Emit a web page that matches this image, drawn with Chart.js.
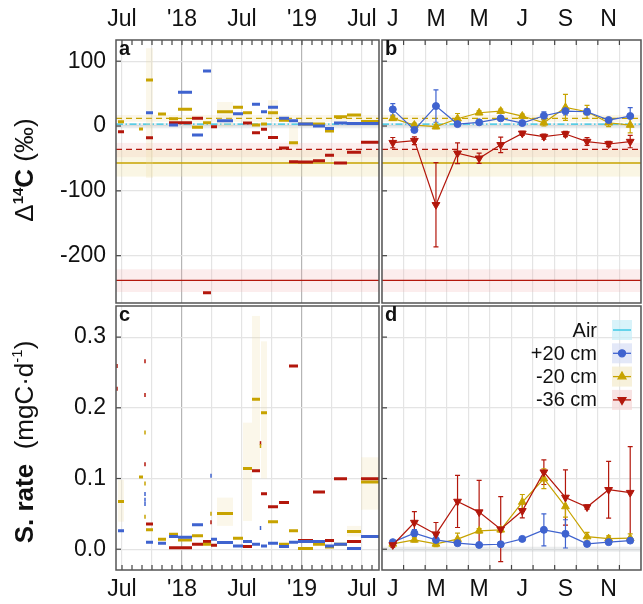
<!DOCTYPE html>
<html><head><meta charset="utf-8">
<script src="https://cdn.jsdelivr.net/npm/chart.js@4"></script>
<style>
html,body{margin:0;padding:0;background:#fff;}
#wrap{position:relative;width:643px;height:604px;overflow:hidden;background:#fff;}
canvas{position:absolute;}
</style></head><body>
<div id="wrap">
<canvas id="ca" width="380" height="304" style="left:0px;top:0px"></canvas>
<canvas id="cb" width="263" height="304" style="left:380px;top:0px"></canvas>
<canvas id="cc" width="380" height="300" style="left:0px;top:304px"></canvas>
<canvas id="cd" width="263" height="300" style="left:380px;top:304px"></canvas>
</div>
<script>
// ---------- DATA ----------
const monthLabels = ['J','F','M','A','M','J','J','A','S','O','N','D'];
// time axis in decimal months since Jan 2017
const timeTickLabels = {6:'Jul',12:"'18",18:'Jul',24:"'19",30:'Jul'};
const d14cTicks = [-200,-100,0,100];
const rateTicks = [0,0.1,0.2,0.3];
const intervalStart = [5.6,7.7,8.4,9.6,10.7,11.6,13.0,14.1,14.9,15.5,17.1,18.1,19.0,19.9,20.6,21.7,22.7,23.6,25.1,26.3,27.2,28.5,29.9];
const intervalEnd   = [6.2,8.1,9.1,10.4,11.6,13.0,14.1,14.9,15.5,17.1,18.1,19.0,19.8,20.5,21.6,22.7,23.6,25.1,26.3,27.2,28.5,29.9,31.7];

const d14cP20 = [null,null,20.5,null,1.5,52,-14,85,null,8,19,null,33.5,22,29,11.8,8,3,0,-4,4.5,4,4];
const d14cM20 = [6.6,-4.6,71,18.5,11.3,25.8,-2,5,null,22,29,20.5,1.5,3,20.5,9,-25.7,3,3,-7.5,14.4,17,7];
const d14cM36 = [-8.8,null,-18,null,5,5,11.8,-257,-1,null,null,4.5,-10.5,-5,-17.7,-34,-55,-55.5,-53.5,-45,-57,-40.5,-25];

const rateP20 = [0.026,null,0.010,0.0085,0.018,0.017,0.0345,null,0.014,0.0094,0.0047,0.0108,0.007,0.0047,0.0085,0.004,0.010,0.011,0.0108,0.0047,0.007,0.001,0.018];
const rateM20 = [0.0675,0.102,0.0274,0.014,0.021,0.013,0.019,0.007,null,0.0505,0.0156,0.114,0.212,0.193,0.039,0.007,0.026,0.001,0.007,0.003,0.007,0.025,0.095];
const rateM36 = [null,null,0.0355,null,0.002,0.002,0.007,0.0108,0.0057,null,null,0.004,0.111,0.0785,0.060,0.066,0.259,0.0122,0.081,0.0122,0.0997,0.0108,0.0997];

// short single-sample marks in panel c
const spotMonthP20 = [8.3,8.3,8.3,14.9,19.85];
const spotRateP20  = [0.078,0.070,0.064,0.104,0.030];
const spotMonthM20 = [8.3,8.3,8.3,14.9,19.85];
const spotRateM20  = [0.165,0.093,0.046,0.050,0.146];
const spotMonthM36 = [5.5,5.5,8.3,8.3,8.3,14.9,19.85];
const spotRateM36  = [0.259,0.227,0.266,0.218,0.120,0.038,0.150];

// uncertainty boxes (panel a / c)
const unc14cStart = [8.4,15.5,20.6,22.7];
const unc14cEnd   = [9.1,17.1,21.6,23.6];
const unc14cLo    = [-80,-1,14,-32];
const unc14cHi    = [120,37,40,-1];
const uncRateStart = [5.6,15.5,18.1,19.0,19.9,28.5,29.9];
const uncRateEnd   = [6.2,17.1,19.0,19.8,20.5,29.9,31.7];
const uncRateLo    = [0.039,0.033,0.040,0.110,0.100,0.018,0.056];
const uncRateHi    = [0.098,0.073,0.179,0.330,0.294,0.033,0.130];

// monthly means (panel b, d)
const monthD14cP20 = [25.7,-6,30.8,3,5.7,11.8,4.6,15.9,23,22,9.2,15.4];
const monthD14cP20Err = [9,3,25,2,2,2,2,6,6,5,3,13];
const monthD14cM20 = [11.8,1.5,-1,11.3,20.5,23,15.4,5,28.7,22,5,1.5];
const monthD14cM20Err = [3,3,3,8,3,3,3,5,20,10,6,12];
const monthD14cM36 = [-25.7,-22.6,-121.5,-42,-49.7,-29,-11.3,-16.4,-12.3,-24,-27.7,-24];
const monthD14cM36Err = [8,6,65,16,8,12,3,4,4,6,4,9.5];

const monthRateP20 = [0.010,0.0227,0.0132,0.0085,0.006,0.007,0.0146,0.0274,0.0217,0.0075,0.010,0.0122];
const monthRateP20Err = [0.002,0.005,0.006,0.002,0.002,0.002,0.002,0.0227,0.020,0.002,0.002,0.002];
const monthRateM20 = [0.0075,0.0132,0.0075,0.0142,0.026,0.0274,0.0667,0.0997,0.0604,0.0179,0.015,0.0156];
const monthRateM20Err = [0.002,0.003,0.004,0.0085,0.003,0.003,0.0107,0.014,0.015,0.006,0.004,0.006];
const monthRateM36 = [0.006,0.0377,0.0213,0.0675,0.0525,0.0284,0.0543,0.109,0.0732,0.0596,0.0841,0.080];
const monthRateM36Err = [0.003,0.0156,0.0165,0.0368,0.045,0.046,0.01,0.0175,0.039,0.003,0.040,0.065];

// long-term reference values (Δ14C, ‰)
const refValue  = [3, 11.8, -36, -57, -238];
const refBandLo = [-3.5, 6.6, -48, -78, -256];
const refBandHi = [4.5, 17, -26, -37, -221];
const rateAirBandLo = [-0.0035];
const rateAirBandHi = [0.0035];

const legendLabels = ['Air','+20 cm','-20 cm','-36 cm'];

// ---------- STYLE ----------
const FONT = "'Liberation Sans', Arial, Helvetica, sans-serif";
const CYAN='#27c3e3', BLUE='#3f63cf', OLIVE='#c7a300', RED='#b3170c';
const refColor = [CYAN, OLIVE, RED, OLIVE, RED];
const refDash = [[7,2.5,1.5,2.5],[6,4],[6,4],[],[]];
const refBandColor = ['rgba(190,195,200,0.30)','rgba(235,215,150,0.22)','rgba(240,170,170,0.20)','rgba(240,225,165,0.30)','rgba(240,175,175,0.22)'];
const uncColor = 'rgba(235,220,160,0.22)';
const legendColor = [CYAN, BLUE, OLIVE, RED];
const legendBox = ['rgba(200,238,248,0.7)','rgba(215,222,245,0.7)','rgba(245,238,210,0.8)','rgba(245,215,215,0.7)'];
const legendMarker = [null,'circle','triangle','triangle'];
const legendRot = [0,0,0,180];

Chart.defaults.font.family = FONT;
Chart.defaults.color = '#111';
Chart.defaults.animation = false;

function segData(start, end, vals){
  const out=[];
  vals.forEach((v,i)=>{ if(v===null) return; out.push({x:start[i],y:v},{x:end[i],y:v},{x:end[i],y:null}); });
  return out;
}
function pts(xs, ys){ return xs.map((x,i)=>({x:x,y:ys[i]})); }
function noPad(s){ s.paddingTop=0; s.paddingBottom=0; s.paddingLeft=0; s.paddingRight=0; }

function timeXScale(position){
  return {type:'linear', position, min:5.4, max:31.7,
    ticks:{stepSize:1, autoSkip:false, includeBounds:false, maxRotation:0, minRotation:0,
      padding: position==='top'?7:6, font:{size:23}, color:'#111', callback:v=>timeTickLabels[v]||''},
    grid:{drawTicks:false, lineWidth:1.2, color:c=>{const v=c.tick?c.tick.value:NaN; if(v%12===0) return '#b5b5b5'; if(v%3===0) return '#e4e4e4'; return 'rgba(0,0,0,0)';}},
    border:{display:false},
    afterFit:s=>{ s.height = position==='top'?40:34; noPad(s); }};
}
function monthXScale(position){
  return {type:'category', position, offset:true,
    ticks:{autoSkip:false, maxRotation:0, minRotation:0, padding: position==='top'?7:6, font:{size:23}, color:'#111',
      callback:(v,i)=> i%2===0?monthLabels[i]:''},
    grid:{offset:true, drawTicks:false, lineWidth:1.2, color:'#e4e4e4'},
    border:{display:false},
    afterFit:s=>{ s.height = position==='top'?40:34; noPad(s); }};
}
function yScale(min,max,tickVals,show,fmt){
  return {type:'linear', min, max,
    ticks:{display:show, padding:10, font:{size:23}, color:'#111', callback:fmt},
    afterBuildTicks:s=>{ s.ticks = tickVals.map(v=>({value:v})); },
    grid:{drawTicks:false, color:'#e4e4e4', lineWidth:1.2},
    border:{display:false},
    afterFit:s=>{ s.width = show?116:0; noPad(s); }};
}

function clipArea(ctx,a){ ctx.beginPath(); ctx.rect(a.left,a.top,a.right-a.left,a.bottom-a.top); ctx.clip(); }
function drawRefs(chart){
  const {ctx, chartArea:a, scales:{y}} = chart;
  ctx.save(); clipArea(ctx,a);
  refBandLo.forEach((lo,i)=>{ const y1=y.getPixelForValue(refBandHi[i]), y2=y.getPixelForValue(lo); ctx.fillStyle=refBandColor[i]; ctx.fillRect(a.left,y1,a.right-a.left,y2-y1); });
  refValue.forEach((v,i)=>{ const py=y.getPixelForValue(v); ctx.strokeStyle=refColor[i]; ctx.lineWidth=1.3; ctx.setLineDash(refDash[i]); ctx.beginPath(); ctx.moveTo(a.left,py); ctx.lineTo(a.right,py); ctx.stroke(); });
  ctx.restore();
}
function drawUnc(chart, s, e, lo, hi){
  const {ctx, chartArea:a, scales:{x,y}} = chart;
  ctx.save(); clipArea(ctx,a); ctx.fillStyle=uncColor;
  s.forEach((v,i)=>{ const x1=x.getPixelForValue(v), x2=x.getPixelForValue(e[i]); const y1=y.getPixelForValue(hi[i]), y2=y.getPixelForValue(lo[i]); ctx.fillRect(x1,y1,x2-x1,y2-y1); });
  ctx.restore();
}
function drawErrors(chart){
  const {ctx, scales:{x,y}} = chart;
  chart.data.datasets.forEach(ds=>{
    if(!ds.errors) return;
    ctx.save(); ctx.strokeStyle=ds.borderColor; ctx.lineWidth=1.2;
    ds.data.forEach((v,j)=>{ const e=ds.errors[j]; if(v==null||!e) return;
      const px=x.getPixelForValue(j), t=y.getPixelForValue(v+e), b=y.getPixelForValue(v-e);
      ctx.beginPath(); ctx.moveTo(px,t); ctx.lineTo(px,b);
      ctx.moveTo(px-2.5,t); ctx.lineTo(px+2.5,t); ctx.moveTo(px-2.5,b); ctx.lineTo(px+2.5,b); ctx.stroke(); });
    ctx.restore();
  });
}
function drawAirBand(chart){
  const {ctx, chartArea:a, scales:{y}} = chart;
  ctx.save(); clipArea(ctx,a); ctx.fillStyle='rgba(190,195,200,0.30)';
  rateAirBandLo.forEach((lo,i)=>{ const y1=y.getPixelForValue(rateAirBandHi[i]), y2=y.getPixelForValue(lo); ctx.fillRect(a.left,y1,a.right-a.left,y2-y1); });
  ctx.restore();
}
function drawLegend(chart){
  const {ctx, chartArea:a} = chart;
  ctx.save();
  ctx.font = "20px "+FONT; ctx.textAlign='right'; ctx.textBaseline='middle';
  legendLabels.forEach((lab,i)=>{
    const cy = a.top + 24 + i*23.3;
    ctx.fillStyle = legendBox[i]; ctx.fillRect(a.right-29, cy-10, 20, 20);
    ctx.strokeStyle = legendColor[i]; ctx.lineWidth=1.3; ctx.beginPath(); ctx.moveTo(a.right-28, cy); ctx.lineTo(a.right-10, cy); ctx.stroke();
    if(legendMarker[i]){ ctx.fillStyle=legendColor[i]; Chart.helpers.drawPoint(ctx,{pointStyle:legendMarker[i], rotation:legendRot[i], radius: i===1?3.5:4.5, borderWidth:1}, a.right-19, cy); }
    ctx.fillStyle='#111'; ctx.fillText(lab, a.right-44, cy+1);
  });
  ctx.restore();
}
function rotText(ctx, cx, cy, parts){
  ctx.save(); ctx.translate(cx,cy); ctx.rotate(-Math.PI/2);
  ctx.textBaseline='alphabetic'; ctx.textAlign='left'; ctx.fillStyle='#111';
  let total=0; parts.forEach(p=>{ ctx.font=p.f; p.w=ctx.measureText(p.t).width; total+=p.w; });
  let x=-total/2; parts.forEach(p=>{ ctx.font=p.f; ctx.fillText(p.t,x,p.r||0); x+=p.w; });
  ctx.restore();
}
function timeTickPx(chart){ const x=chart.scales.x; return x.ticks.map(t=>x.getPixelForValue(t.value)); }
function monthTickPx(chart){ const x=chart.scales.x; const r=[]; for(let i=0;i<11;i++) r.push((x.getPixelForValue(i)+x.getPixelForValue(i+1))/2); return r; }

function framePlugin(letter, xEdge, tickFn, before, after){
  return {id:'frame'+letter,
    beforeDatasetsDraw(chart){ if(before) before(chart); },
    afterDraw(chart){
      const {ctx, chartArea:a} = chart;
      ctx.save();
      ctx.strokeStyle='#444'; ctx.lineWidth=1.2;
      tickFn(chart).forEach(px=>{ ctx.beginPath();
        if(xEdge==='top'){ ctx.moveTo(px,a.top); ctx.lineTo(px,a.top+5); } else { ctx.moveTo(px,a.bottom); ctx.lineTo(px,a.bottom-5); }
        ctx.stroke(); });
      const ys=chart.scales.y;
      ys.ticks.forEach(t=>{ const py=ys.getPixelForValue(t.value); ctx.beginPath(); ctx.moveTo(a.left,py); ctx.lineTo(a.left+5,py); ctx.stroke(); });
      ctx.strokeStyle='#555'; ctx.lineWidth=1.5;
      ctx.strokeRect(a.left, a.top, a.right-a.left, a.bottom-a.top);
      ctx.fillStyle='#111'; ctx.font="bold 20px "+FONT; ctx.textAlign='left'; ctx.textBaseline='alphabetic';
      ctx.fillText(letter, a.left+3, a.top+15);
      ctx.restore();
      if(after) after(chart);
    }};
}

function segDS(data, color){ return {type:'line', data, borderColor:color, backgroundColor:color, borderWidth:3, borderCapStyle:'butt', pointRadius:0, spanGaps:false, tension:0}; }
function spotDS(data, color){ return {type:'scatter', data, borderColor:color, backgroundColor:color, pointStyle:'line', rotation:90, pointRadius:2, borderWidth:1.5, showLine:false}; }
function monthDS(data, errors, color, style, rot, r){ return {type:'line', data, errors, borderColor:color, backgroundColor:color, borderWidth:1.2, pointStyle:style, rotation:rot, pointRadius:r, pointBorderWidth:1, tension:0}; }

const common = {responsive:false, animation:false, events:[], devicePixelRatio:1,
  plugins:{legend:{display:false}, tooltip:{enabled:false}}};
function lay(l,t,r,b){ return {autoPadding:false, padding:{left:l,top:t,right:r,bottom:b}}; }

// Panel a
new Chart(document.getElementById('ca'), {
  type:'line',
  data:{datasets:[ segDS(segData(intervalStart,intervalEnd,d14cP20),BLUE), segDS(segData(intervalStart,intervalEnd,d14cM20),OLIVE), segDS(segData(intervalStart,intervalEnd,d14cM36),RED) ]},
  options:Object.assign({}, common, {layout:lay(0,0,1,1),
    scales:{x:timeXScale('top'), y:yScale(-273,132.7,d14cTicks,true,v=>String(v))}}),
  plugins:[framePlugin('a','top',timeTickPx, ch=>{ drawRefs(ch); drawUnc(ch,unc14cStart,unc14cEnd,unc14cLo,unc14cHi); },
    ch=>{ rotText(ch.ctx, 33, 170, [{t:'Δ',f:'26px '+FONT},{t:'14',f:'bold 15px '+FONT,r:-10},{t:'C',f:'bold 26px '+FONT},{t:' (‰)',f:'26px '+FONT}]); })]
});

// Panel b
new Chart(document.getElementById('cb'), {
  type:'line',
  data:{labels:monthLabels, datasets:[
    monthDS(monthD14cP20, monthD14cP20Err, BLUE,'circle',0,3.5),
    monthDS(monthD14cM20, monthD14cM20Err, OLIVE,'triangle',0,4.5),
    monthDS(monthD14cM36, monthD14cM36Err, RED,'triangle',180,4.5)]},
  options:Object.assign({}, common, {layout:lay(2,0,2,1),
    scales:{x:monthXScale('top'), y:yScale(-273,132.7,d14cTicks,false)}}),
  plugins:[framePlugin('b','top',monthTickPx, ch=>{ drawRefs(ch); drawErrors(ch); })]
});

// Panel c
new Chart(document.getElementById('cc'), {
  type:'line',
  data:{datasets:[ segDS(segData(intervalStart,intervalEnd,rateP20),BLUE), segDS(segData(intervalStart,intervalEnd,rateM20),OLIVE), segDS(segData(intervalStart,intervalEnd,rateM36),RED),
    spotDS(pts(spotMonthP20,spotRateP20),BLUE), spotDS(pts(spotMonthM20,spotRateM20),OLIVE), spotDS(pts(spotMonthM36,spotRateM36),RED) ]},
  options:Object.assign({}, common, {layout:lay(0,2,1,0),
    scales:{x:timeXScale('bottom'), y:yScale(-0.0294,0.344,rateTicks,true,v=>Number(v).toFixed(1))}}),
  plugins:[framePlugin('c','bottom',timeTickPx, ch=>{ drawUnc(ch,uncRateStart,uncRateEnd,uncRateLo,uncRateHi); },
    ch=>{ rotText(ch.ctx, 33, 138, [{t:'S. rate',f:'bold 26px '+FONT},{t:'  (mgC·d',f:'26px '+FONT},{t:'-1',f:'15px '+FONT,r:-11},{t:')',f:'26px '+FONT}]); })]
});

// Panel d
new Chart(document.getElementById('cd'), {
  type:'line',
  data:{labels:monthLabels, datasets:[
    monthDS(monthRateM36, monthRateM36Err, RED,'triangle',180,4.5),
    monthDS(monthRateP20, monthRateP20Err, BLUE,'circle',0,3.5),
    monthDS(monthRateM20, monthRateM20Err, OLIVE,'triangle',0,4.5)]},
  options:Object.assign({}, common, {layout:lay(2,2,2,0),
    scales:{x:monthXScale('bottom'), y:yScale(-0.0294,0.344,rateTicks,false)}}),
  plugins:[framePlugin('d','bottom',monthTickPx, ch=>{ drawAirBand(ch); drawErrors(ch); }, ch=>{ drawLegend(ch); })]
});
</script>
</body></html>
